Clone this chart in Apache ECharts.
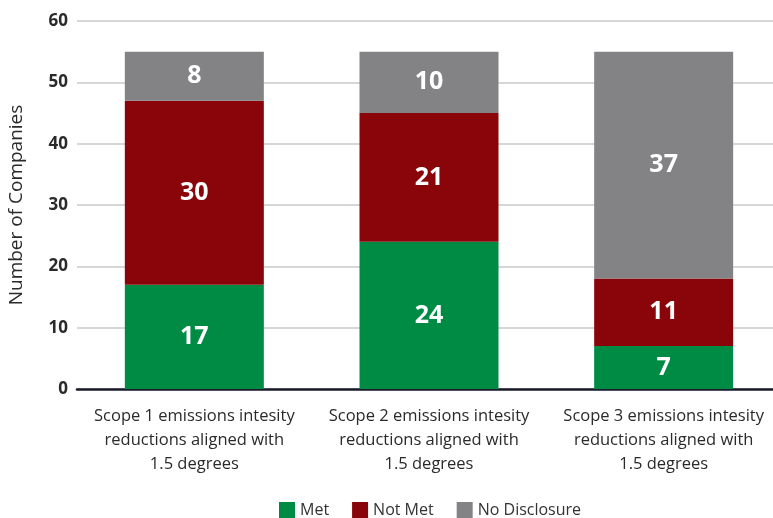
<!DOCTYPE html>
<html><head><meta charset="utf-8">
<script src="https://cdn.jsdelivr.net/npm/echarts@6/dist/echarts.min.js"></script>
<style>html,body{margin:0;padding:0;background:#fff}#c{width:773px;height:518px}</style>
</head><body><div id="c"></div>
<script>
const categories = ["Scope 1 emissions intesity\nreductions aligned with\n1.5 degrees","Scope 2 emissions intesity\nreductions aligned with\n1.5 degrees","Scope 3 emissions intesity\nreductions aligned with\n1.5 degrees"];
const met = [17, 24, 7];
const notMet = [30, 21, 11];
const noDisclosure = [8, 10, 37];
const yTicks = [0, 10, 20, 30, 40, 50, 60];

const font = "Open Sans";
const lbl = {show:true, position:'inside', color:'#fff', fontSize:25, fontWeight:'bold', fontFamily:font};
const chart = echarts.init(document.getElementById('c'));
chart.setOption({
  animation:false,
  grid:{left:77, width:704, top:21, bottom:129, containLabel:false, outerBoundsMode:'none'},
  legend:{bottom:-5, left:274, itemWidth:16, itemHeight:16, itemGap:23, icon:'rect',
    textStyle:{fontFamily:font, fontSize:16, color:'#333'}},
  xAxis:{type:'category', data:categories,
    axisLine:{lineStyle:{color:'#1a1a2a', width:2.5}}, axisTick:{show:false},
    axisLabel:{fontFamily:font, fontSize:16.5, fontWeight:500, color:'#2a2a2a', lineHeight:24, margin:15, interval:0}},
  yAxis:{type:'value', min:yTicks[0], max:yTicks[yTicks.length-1], interval:10,
    name:'Number of Companies', nameLocation:'middle', nameGap:51, nameRotate:90,
    nameTextStyle:{fontFamily:font, fontSize:19, fontWeight:500, color:'#2a2a2a'},
    axisLine:{show:false}, axisTick:{show:false},
    axisLabel:{fontFamily:font, fontSize:17, fontWeight:'bold', color:'#2a2a2a', margin:9},
    splitLine:{lineStyle:{color:'#c8c8c8', width:1.5}}},
  series:[
    {name:'Met', type:'bar', stack:'a', data:met, barWidth:139, itemStyle:{color:'#008b44'}, label:lbl},
    {name:'Not Met', type:'bar', stack:'a', data:notMet, barWidth:139, itemStyle:{color:'#8a050a'}, label:lbl},
    {name:'No Disclosure', type:'bar', stack:'a', data:noDisclosure, barWidth:139, itemStyle:{color:'#838386'}, label:lbl}
  ]
});
</script></body></html>
